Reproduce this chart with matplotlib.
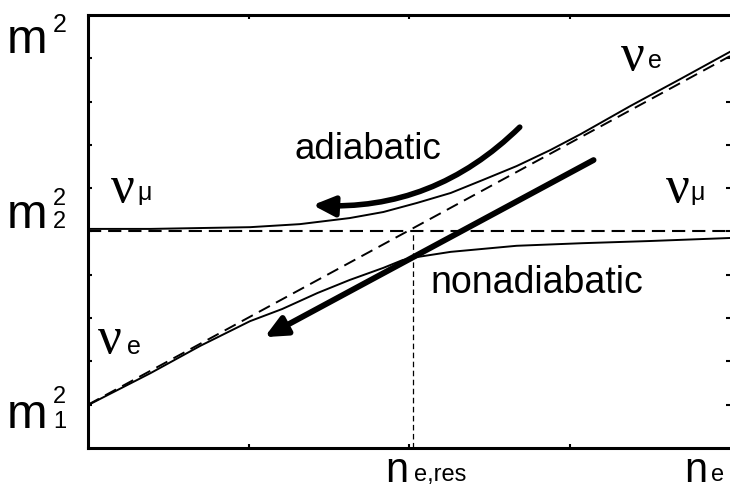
import matplotlib
matplotlib.use('Agg')
import matplotlib.pyplot as plt

plt.rcParams['lines.scale_dashes'] = False

# level-crossing diagram (x: 0..4, y: 0..10)
x_upper = [0.0, 0.39, 0.70, 1.01, 1.32, 1.63, 1.84, 2.05, 2.26, 2.46, 2.67, 2.88, 3.07, 3.38, 3.69, 4.0]
y_upper = [5.06, 5.06, 5.08, 5.10, 5.17, 5.31, 5.45, 5.66, 5.89, 6.19, 6.51, 6.88, 7.25, 7.90, 8.52, 9.15]

x_lower = [0.0, 0.39, 0.70, 1.01, 1.21, 1.43, 1.63, 1.84, 1.96, 2.05, 2.26, 2.67, 3.08, 3.50, 4.0]
y_lower = [0.99, 1.73, 2.36, 2.93, 3.21, 3.58, 3.88, 4.16, 4.34, 4.41, 4.53, 4.67, 4.73, 4.78, 4.85]

x_diag = [0.0, 4.0]
y_diag = [1.0, 9.05]
m2_level = 5.0
x_res = 2.025

# arrows (tail -> head)
adiabatic_tail = (2.69, 7.41)
adiabatic_head = (1.40, 5.61)
nonadiabatic_tail = (3.15, 6.65)
nonadiabatic_head = (1.10, 2.56)

W, H = 730, 495
fig = plt.figure(figsize=(W / 100, H / 100), dpi=100)
ax = fig.add_axes([88 / W, 1 - 448 / H, (730 - 88) / W, (448 - 15) / H])
ax.set_xlim(0, 4)
ax.set_ylim(0, 10)

ax.plot(x_upper, y_upper, color='black', lw=1.4)
ax.plot(x_lower, y_lower, color='black', lw=1.4)
ax.plot(x_diag, y_diag, color='black', lw=1.4, dashes=(9, 5))
ax.axhline(m2_level, color='black', lw=1.5, dashes=(9.5, 5))
ax.plot([x_res, x_res], [0, m2_level], color='black', lw=0.9, dashes=(4, 2.5))

ax.annotate('', xy=adiabatic_head, xytext=adiabatic_tail,
            arrowprops=dict(arrowstyle='-|>,head_length=0.65,head_width=0.3',
                            mutation_scale=20, lw=4, color='black',
                            shrinkA=0, shrinkB=0,
                            connectionstyle='arc3,rad=-0.22'))
ax.annotate('', xy=nonadiabatic_head, xytext=nonadiabatic_tail,
            arrowprops=dict(arrowstyle='-|>,head_length=0.65,head_width=0.3',
                            mutation_scale=20, lw=4.2, color='black',
                            shrinkA=0, shrinkB=0))

ax.set_xticks([1, 2, 3])
ax.set_yticks(range(1, 10))
ax.tick_params(direction='in', length=3, width=1.5, top=True, right=True,
               labelbottom=False, labelleft=False)
for s in ['left', 'bottom', 'top']:
    ax.spines[s].set_linewidth(2.2)
ax.spines['right'].set_visible(False)


def px(x, y):
    return x / W, 1 - y / H


sans = 'Liberation Sans'
serif = 'Liberation Serif'


def txt(x, y, s, size, family=sans):
    fig.text(*px(x, y), s, fontsize=size, family=family, va='baseline', ha='left')


# m^2 labels on the left
txt(7, 53, 'm', 35)
txt(53, 32, '2', 18)
txt(7, 228, 'm', 35)
txt(53, 205, '2', 17)
txt(53, 228, '2', 17)
txt(7, 428, 'm', 35)
txt(53, 403, '2', 17)
txt(53, 428, '1', 17)

# density labels
txt(385, 482, 'n', 30)
txt(414, 481, 'e,res', 17)
txt(684, 482, 'n', 30)
txt(711, 481, 'e', 17)

# neutrino labels
txt(621, 70, 'ν', 38, serif)
txt(648, 68, 'e', 18)
txt(111, 202, 'ν', 38, serif)
txt(137, 200, 'μ', 18)
txt(666, 202, 'ν', 38, serif)
txt(690, 200, 'μ', 18)
txt(98, 353, 'ν', 38, serif)
txt(127, 354, 'e', 18)

txt(294, 159, 'adiabatic', 26.5)
txt(430, 293, 'nonadiabatic', 27)

fig.savefig('out.png', dpi=100)
